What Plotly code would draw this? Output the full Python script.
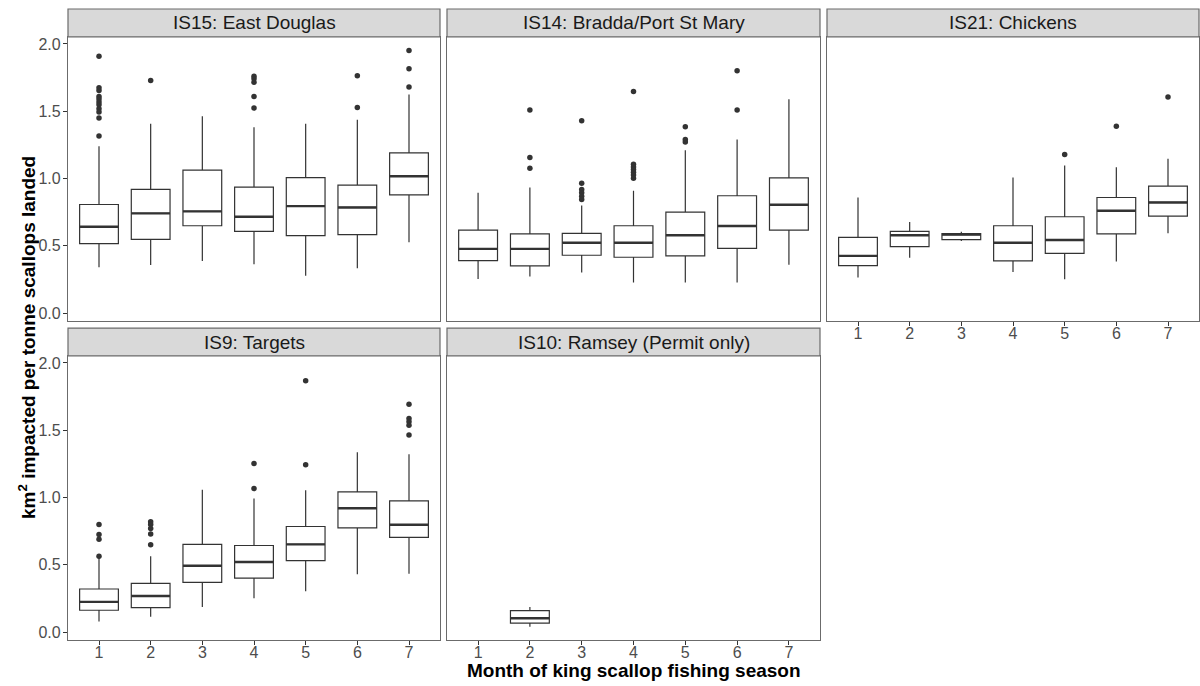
import plotly.graph_objects as go

W, H = 1200, 686
months = [1, 2, 3, 4, 5, 6, 7]

panel_titles = ["IS15: East Douglas", "IS14: Bradda/Port St Mary", "IS21: Chickens",
                "IS9: Targets", "IS10: Ramsey (Permit only)"]

# ---- box statistics per panel (month -> stats) ----
is15_low = [0.34, 0.358, 0.388, 0.363, 0.277, 0.333, 0.526]
is15_q1 = [0.516, 0.548, 0.649, 0.607, 0.575, 0.583, 0.879]
is15_med = [0.642, 0.741, 0.756, 0.716, 0.795, 0.785, 1.017]
is15_q3 = [0.807, 0.919, 1.062, 0.936, 1.007, 0.951, 1.19]
is15_up = [1.24, 1.407, 1.462, 1.38, 1.407, 1.437, 1.625]
is15_out_x = [1, 1, 1, 1, 1, 1, 1, 1, 1, 1, 1, 2, 4, 4, 4, 4, 4, 6, 6, 7, 7, 7]
is15_out_y = [1.909, 1.674, 1.654, 1.61, 1.59, 1.568, 1.548, 1.519, 1.494, 1.449, 1.316,
              1.728, 1.76, 1.741, 1.716, 1.61, 1.523, 1.763, 1.528, 1.951, 1.815, 1.679]

is14_low = [0.254, 0.272, 0.301, 0.227, 0.227, 0.227, 0.36]
is14_q1 = [0.39, 0.351, 0.43, 0.415, 0.425, 0.481, 0.617]
is14_med = [0.477, 0.477, 0.523, 0.523, 0.578, 0.647, 0.805]
is14_q3 = [0.617, 0.588, 0.593, 0.649, 0.751, 0.872, 1.005]
is14_up = [0.894, 0.933, 0.8, 0.909, 1.21, 1.289, 1.588]
is14_out_x = [2, 2, 2, 3, 3, 3, 3, 3, 3, 4, 4, 4, 4, 4, 4, 4, 5, 5, 5, 6, 6]
is14_out_y = [1.509, 1.156, 1.077, 1.43, 0.965, 0.919, 0.894, 0.869, 0.844,
              1.647, 1.106, 1.086, 1.067, 1.047, 1.027, 1.002, 1.385, 1.289, 1.272, 1.8, 1.509]

is21_low = [0.264, 0.412, 0.536, 0.306, 0.252, 0.383, 0.593]
is21_q1 = [0.353, 0.494, 0.546, 0.388, 0.444, 0.588, 0.721]
is21_med = [0.425, 0.578, 0.583, 0.523, 0.543, 0.76, 0.822]
is21_q3 = [0.563, 0.607, 0.59, 0.649, 0.716, 0.859, 0.943]
is21_up = [0.859, 0.677, 0.605, 1.007, 1.096, 1.084, 1.146]
is21_out_x = [5, 6, 7]
is21_out_y = [1.178, 1.388, 1.605]

is9_low = [0.079, 0.114, 0.188, 0.252, 0.304, 0.43, 0.435]
is9_q1 = [0.163, 0.183, 0.37, 0.402, 0.531, 0.775, 0.704]
is9_med = [0.225, 0.269, 0.494, 0.521, 0.652, 0.921, 0.798]
is9_q3 = [0.321, 0.363, 0.652, 0.644, 0.785, 1.042, 0.975]
is9_up = [0.555, 0.565, 1.059, 0.993, 1.054, 1.336, 1.321]
is9_out_x = [1, 1, 1, 1, 2, 2, 2, 2, 2, 4, 4, 5, 5, 7, 7, 7, 7, 7]
is9_out_y = [0.8, 0.725, 0.69, 0.565, 0.82, 0.8, 0.77, 0.73, 0.649,
             1.254, 1.067, 1.867, 1.244, 1.694, 1.588, 1.563, 1.538, 1.464]

is10_months = [2]
is10_low = [0.04]
is10_q1 = [0.067]
is10_med = [0.104]
is10_q3 = [0.16]
is10_up = [0.188]
is10_out_x = []
is10_out_y = []

y_ticks = [0.0, 0.5, 1.0, 1.5, 2.0]

panels = [
    (months, is15_low, is15_q1, is15_med, is15_q3, is15_up, is15_out_x, is15_out_y),
    (months, is14_low, is14_q1, is14_med, is14_q3, is14_up, is14_out_x, is14_out_y),
    (months, is21_low, is21_q1, is21_med, is21_q3, is21_up, is21_out_x, is21_out_y),
    (months, is9_low, is9_q1, is9_med, is9_q3, is9_up, is9_out_x, is9_out_y),
    (is10_months, is10_low, is10_q1, is10_med, is10_q3, is10_up, is10_out_x, is10_out_y),
]

# ---- layout geometry (pixels) ----
cols_px = [(68, 440), (447, 820), (827, 1199)]
rows_px = [(36, 321), (356, 641)]
strip_h = 28
pos = [(0, 0), (0, 1), (0, 2), (1, 0), (1, 1)]
show_x = [False, False, True, True, True]
show_y = [True, False, False, True, False]

FONT = "Liberation Sans, Arial, sans-serif"
LINE = "#333333"
BORDER = "#6b6b6b"
BOX_W = 0.75

fig = go.Figure()
layout_axes = {}
shapes = []
annotations = []

for i, (mx, lo, q1, md, q3, up, ox, oy) in enumerate(panels):
    n = i + 1
    xa = "x" if n == 1 else f"x{n}"
    ya = "y" if n == 1 else f"y{n}"
    r, c = pos[i]
    x0p, x1p = cols_px[c]
    y0p, y1p = rows_px[r]

    fig.add_trace(go.Box(
        x=mx, q1=q1, median=md, q3=q3, lowerfence=lo, upperfence=up,
        fillcolor="white", line=dict(color=LINE, width=1.2), whiskerwidth=0,
        width=BOX_W, boxpoints=False, xaxis=xa, yaxis=ya, showlegend=False,
        hoverinfo="skip"))
    # thicker median lines (ggplot style)
    mxs, mys = [], []
    for m, v in zip(mx, md):
        mxs += [m - BOX_W / 2, m + BOX_W / 2, None]
        mys += [v, v, None]
    fig.add_trace(go.Scatter(x=mxs, y=mys, mode="lines", line=dict(color=LINE, width=2.4),
                             xaxis=xa, yaxis=ya, showlegend=False, hoverinfo="skip"))
    if ox:
        fig.add_trace(go.Scatter(x=ox, y=oy, mode="markers",
                                 marker=dict(color=LINE, size=5.5, line=dict(width=0)),
                                 xaxis=xa, yaxis=ya, showlegend=False, hoverinfo="skip"))

    key_x = "xaxis" if n == 1 else f"xaxis{n}"
    key_y = "yaxis" if n == 1 else f"yaxis{n}"
    layout_axes[key_x] = dict(
        domain=[x0p / W, x1p / W], range=[0.4, 7.6], anchor=ya,
        tickmode="array", tickvals=months, ticktext=[str(m) for m in months],
        showticklabels=show_x[i], ticks="outside" if show_x[i] else "",
        ticklen=4, tickwidth=1, tickcolor=LINE, ticklabelstandoff=-6,
        tickfont=dict(family=FONT, size=16, color="#4d4d4d"),
        showgrid=False, zeroline=False, showline=True, mirror=True,
        linecolor=BORDER, linewidth=1.2, fixedrange=True)
    layout_axes[key_y] = dict(
        domain=[1 - y1p / H, 1 - y0p / H], range=[-0.059, 2.052], anchor=xa,
        tickmode="array", tickvals=y_ticks, ticktext=[f"{t:.1f}" for t in y_ticks],
        showticklabels=show_y[i], ticks="outside" if show_y[i] else "",
        ticklen=4, tickwidth=1, tickcolor=LINE, ticklabelstandoff=-1,
        tickfont=dict(family=FONT, size=16, color="#4d4d4d"),
        showgrid=False, zeroline=False, showline=True, mirror=True,
        linecolor=BORDER, linewidth=1.2, fixedrange=True)

    # strip
    shapes.append(dict(type="rect", xref="paper", yref="paper",
                       x0=x0p / W, x1=x1p / W, y0=1 - y0p / H, y1=1 - (y0p - strip_h) / H,
                       fillcolor="#d9d9d9", line=dict(color=BORDER, width=1.2), layer="above"))
    annotations.append(dict(text=panel_titles[i], xref="paper", yref="paper",
                            x=(x0p + x1p) / 2 / W, y=1 - (y0p - strip_h / 2) / H,
                            xanchor="center", yanchor="middle", showarrow=False,
                            font=dict(family=FONT, size=19, color="#1a1a1a")))

annotations.append(dict(text="<b>Month of king scallop fishing season</b>", xref="paper", yref="paper",
                        x=(68 + 1199) / 2 / W, y=1 - 671 / H, xanchor="center", yanchor="middle",
                        showarrow=False, font=dict(family=FONT, size=19, color="black")))
annotations.append(dict(text="<b>km<sup>2</sup> impacted per tonne scallops landed</b>",
                        xref="paper", yref="paper", x=27 / W, y=1 - 338 / H,
                        xanchor="center", yanchor="middle", textangle=-90, showarrow=False,
                        font=dict(family=FONT, size=19, color="black")))

fig.update_layout(
    width=W, height=H, margin=dict(l=0, r=0, t=0, b=0),
    paper_bgcolor="white", plot_bgcolor="white",
    shapes=shapes, annotations=annotations, showlegend=False,
    **layout_axes)

fig.write_html("out.html", config={"displayModeBar": False},
               post_script="document.body.style.margin='0';document.body.style.overflow='hidden';")
